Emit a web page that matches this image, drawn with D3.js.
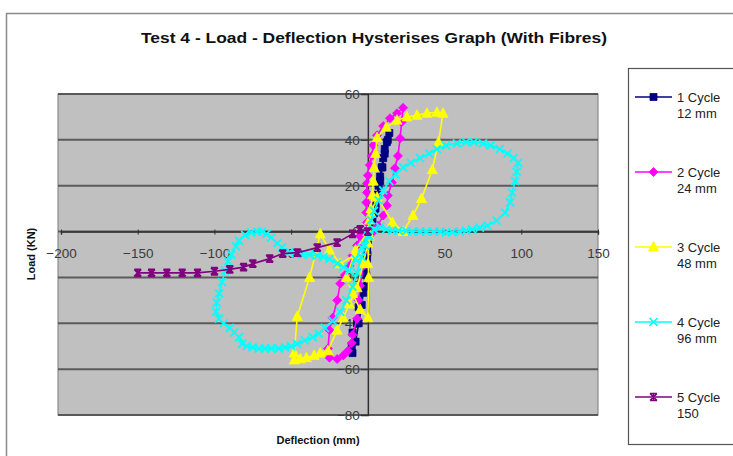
<!DOCTYPE html>
<html><head><meta charset="utf-8">
<script src="https://cdn.jsdelivr.net/npm/d3@7"></script>
<style>html,body{margin:0;padding:0;background:#fff;}svg{display:block;font-family:"Liberation Sans",Arial,sans-serif;}</style>
</head><body>
<svg id="c" width="733" height="456"></svg>
<script>
const chartTitle = "Test 4 - Load - Deflection Hysterises Graph (With Fibres)";
const xTitle = "Deflection (mm)";
const yTitle = "Load (KN)";
const xTicks = [-200, -150, -100, -50, 0, 50, 100, 150];
const yTicks = [60, 40, 20, 0, -20, -40, -60, -80];
const seriesNames = [["1 Cycle", "12 mm"], ["2 Cycle", "24 mm"], ["3 Cycle", "48 mm"], ["4 Cycle", "96 mm"], ["5 Cycle", "150"]];
const seriesColors = ["#000080", "#ff00ff", "#ffff00", "#00ffff", "#800080"];
const seriesMarkers = ["square", "diamond", "triangle", "x", "star"];

const cycle1 = [[0,0],[2,4],[4,8],[5,12],[6,16],[7,20],[8,24],[9,28],[10,32],[11,36],[12.4,39],[14,43],[13,40],[11,34],[9.5,28],[8,22],[6.5,16],[5,10],[3,5],[1,0],[0,-5],[-0.5,-12],[-1,-19],[-3,-26.7],[-6,-33],[-7,-40],[-10,-44],[-10.5,-50],[-10,-53],[-8,-48],[-6,-40],[-4,-32],[-2.5,-24],[-1.5,-16],[-0.5,-8],[0,0]];
const cycle2 = [[0,0],[-0.5,4],[-1,8.3],[-1,12.7],[-0.6,17],[-0.6,21],[0,24.5],[1.3,29],[2.6,33],[3.5,37.6],[6,42],[10,46],[14.4,49.4],[19,51.6],[23,54],[22,47.7],[21,40.7],[19.6,33],[17.6,27.6],[15.7,21.4],[13,15.7],[12.4,11.4],[10,7],[6.5,2.6],[3,-0.4],[-2,-1],[-5,-2],[-7,-6],[-10,-10.5],[-12,-15],[-15,-19],[-18,-22.7],[-20,-30],[-23,-37.6],[-25,-43],[-26,-51],[-25,-55],[-20,-55.6],[-16,-54],[-13,-52],[-10.5,-48.6],[-10,-45],[-7,-38],[-6,-30],[-5,-23.6],[-3,-15],[-0.6,-6],[0,0]];
const cycle3 = [[0,0],[1,5],[2,10],[3,16],[3.5,22],[4,28],[5,34],[6,41],[12,45.5],[19,48.6],[25.5,50],[32,50.7],[38.5,51.6],[45,52],[49,51.6],[46,39],[42,27],[35,14.4],[29.4,7],[23,0],[16,4],[6,15],[2,8],[1,-2],[0,-14],[-8,-10],[-18,-14],[-25,-8],[-31,-1],[-38,-20],[-46,-37],[-48,-53],[-48,-56],[-44,-55.5],[-40,-55],[-35,-54],[-31,-53],[-26,-52],[-20,-43],[-16,-37.6],[-12,-31.6],[-7,-24.5],[-3,-14],[0,-5],[0.5,-20],[0,-37.6],[-5,-34],[-10,-27],[-14,-20],[-8,-8],[0,0]];
const cycle4 = [[0,0],[2,5],[4,9],[7,13.6],[10,18],[14,22],[18,25],[23,28],[28,30],[34,32],[40,34],[45,36],[51,37.5],[58,38.5],[64,39],[69,39],[75,38.5],[80,37.6],[86,36],[91,34],[95,32],[98,30],[97,26],[96,22],[94,17],[92.7,12.7],[89.5,8.3],[84,4.8],[78,2.6],[73,1.7],[68,1],[64,0.4],[60,0],[55,-0.4],[51,-0.4],[47,0],[43,0],[38,0],[34,0],[29,0],[25,0.2],[20,0.4],[16,0.4],[12,1],[8,2],[4,1],[1,-2],[-2,-6],[-4,-11],[-7,-18],[-10,-24],[-14,-30],[-18,-35],[-23,-39],[-28,-42],[-32,-44.5],[-36,-46],[-41,-47.5],[-46,-49],[-50,-50],[-54,-50.5],[-58,-51],[-63,-51],[-67,-51],[-71,-51],[-75,-50.5],[-79,-50],[-82,-49],[-84,-46],[-87,-44],[-90,-42],[-94,-40],[-97,-38],[-99,-35],[-98.5,-31],[-97,-27],[-95,-22],[-93,-17],[-91,-13],[-89,-10],[-86,-6.5],[-84,-4],[-80,-1.5],[-76,-0.4],[-72,0],[-69,0],[-66,-1],[-63,-2.6],[-59,-5],[-56,-7],[-51,-9],[-47,-9.6],[-43,-10],[-38,-10],[-33,-10.5],[-29,-11],[-25,-12],[-20,-14],[-16,-15.5],[-12,-17],[-8,-12],[-4,-7],[0,-2]];
const cycle5 = [[0,0],[-5,1],[-10,-1],[-20,-4.8],[-33,-7],[-46,-9.2],[-55.5,-9.6],[-64,-11.8],[-75,-14],[-81,-15.5],[-90,-16.5],[-100,-17.3],[-111,-18],[-121,-18],[-131,-18],[-141,-18],[-150,-18]];
const allSeries = [cycle1, cycle2, cycle3, cycle4, cycle5];

const svg = d3.select("#c");
// outer chart frame
svg.append("rect").attr("x", 6.5).attr("y", 13.5).attr("width", 800).attr("height", 600)
  .attr("fill", "#fff").attr("stroke", "#8a8a8a").attr("stroke-width", 1.5);

const x = d3.scaleLinear().domain([-200, 150]).range([61, 598]);
const y = d3.scaleLinear().domain([-80, 60]).range([415, 94]);

// plot area
svg.append("rect").attr("x", x(-200) - 3).attr("y", y(60)).attr("width", x(150) - x(-200) + 3)
  .attr("height", y(-80) - y(60)).attr("fill", "#c0c0c0").attr("stroke", "#7a7a7a").attr("stroke-width", 1);

// gridlines
svg.append("g").selectAll("line").data(yTicks).join("line")
  .attr("x1", x(-200) - 3).attr("x2", x(150))
  .attr("y1", d => y(d)).attr("y2", d => y(d))
  .attr("stroke", "#4a4a4a").attr("stroke-width", 2).attr("opacity", 0.85);

// x axis at y=0
const xAxis = d3.axisBottom(x).tickValues(xTicks).tickSize(3).tickFormat(d3.format("d"));
const gx = svg.append("g").attr("transform", `translate(0,${y(0)})`).call(xAxis);
gx.select(".domain").attr("stroke", "#303030").attr("stroke-width", 1.5);
gx.selectAll(".tick line").attr("stroke", "#303030").attr("y1", -2).attr("y2", 3);
gx.selectAll(".tick text").attr("font-size", 13.5).attr("fill", "#3a3a3a").attr("dy", null).attr("y", 26)
  .attr("font-family", "Liberation Sans, Arial, sans-serif");

// y axis at x=0
const yAxis = d3.axisLeft(y).tickValues(yTicks).tickSize(7).tickFormat(d3.format("d"));
const gy = svg.append("g").attr("transform", `translate(${x(0)},0)`).call(yAxis);
gy.select(".domain").attr("stroke", "#303030").attr("stroke-width", 1.5);
gy.selectAll(".tick line").attr("stroke", "#303030");
gy.selectAll(".tick text").attr("font-size", 13.5).attr("fill", "#3a3a3a").attr("x", -8)
  .attr("font-family", "Liberation Sans, Arial, sans-serif");

// marker generator
function markerPath(type) {
  switch (type) {
    case "square": return "M-3.5,-3.5H3.5V3.5H-3.5Z";
    case "diamond": return "M0,-4.5L4.5,0L0,4.5L-4.5,0Z";
    case "triangle": return "M0,-5.5L5,4H-5Z";
    case "x": return "M-4,-4L4,4M-4,4L4,-4";
    case "star": return "M-3.5,-3.5L3.5,3.5M-3.5,3.5L3.5,-3.5M0,-4V4M-3.5,-3.5H3.5M-3.5,3.5H3.5";
  }
}
const line = d3.line().x(d => x(d[0])).y(d => y(d[1]));
allSeries.forEach((data, i) => {
  const g = svg.append("g");
  const col = seriesColors[i];
  g.append("path").datum(data).attr("d", line).attr("fill", "none").attr("stroke", col).attr("stroke-width", 1.6);
  const filled = ["square", "diamond", "triangle"].includes(seriesMarkers[i]);
  g.selectAll("path.m").data(data).join("path").attr("class", "m")
    .attr("transform", d => `translate(${x(d[0])},${y(d[1])})`)
    .attr("d", markerPath(seriesMarkers[i]))
    .attr("fill", filled ? col : "none").attr("stroke", col).attr("stroke-width", filled ? 0.8 : 1.8);
});

// title & axis titles
svg.append("text").attr("x", 374).attr("y", 43).attr("text-anchor", "middle")
  .attr("font-size", 15).attr("font-weight", "bold").attr("fill", "#111")
  .attr("textLength", 466).attr("lengthAdjust", "spacingAndGlyphs").text(chartTitle);
svg.append("text").attr("x", 318).attr("y", 444).attr("text-anchor", "middle")
  .attr("font-size", 11).attr("font-weight", "bold").attr("fill", "#111").text(xTitle);
svg.append("text").attr("transform", "translate(35,254) rotate(-90)").attr("text-anchor", "middle")
  .attr("font-size", 11).attr("font-weight", "bold").attr("fill", "#111").text(yTitle);

// legend
svg.append("rect").attr("x", 628.5).attr("y", 68.5).attr("width", 130).attr("height", 376)
  .attr("fill", "#fff").attr("stroke", "#555").attr("stroke-width", 1.2);
seriesNames.forEach((nm, i) => {
  const cy = 97 + i * 75;
  const col = seriesColors[i];
  const g = svg.append("g");
  g.append("line").attr("x1", 635).attr("x2", 672).attr("y1", cy).attr("y2", cy).attr("stroke", col).attr("stroke-width", 1.6);
  const filled = ["square", "diamond", "triangle"].includes(seriesMarkers[i]);
  g.append("path").attr("transform", `translate(653.5,${cy})`).attr("d", markerPath(seriesMarkers[i]))
    .attr("fill", filled ? col : "none").attr("stroke", col).attr("stroke-width", filled ? 0.8 : 1.6);
  g.append("text").attr("x", 677).attr("y", cy + 5).attr("font-size", 13).attr("fill", "#222").text(nm[0]);
  g.append("text").attr("x", 677).attr("y", cy + 21).attr("font-size", 13).attr("fill", "#222").text(nm[1]);
});
</script>
</body></html>
